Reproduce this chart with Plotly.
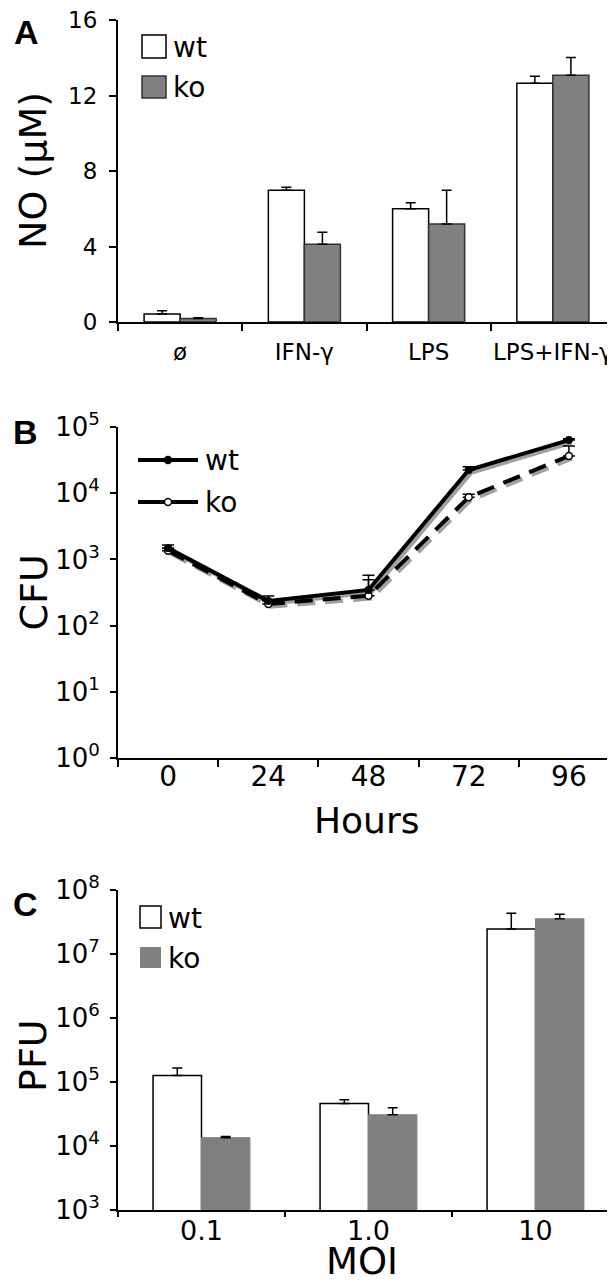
import plotly.graph_objects as go

W, H = 615, 1282

# ---------------- Data ----------------
# Panel A: NO production (uM)
a_categories = ["ø", "IFN-γ", "LPS", "LPS+IFN-γ"]
a_wt = [0.42, 6.98, 6.00, 12.65]
a_wt_err = [0.18, 0.16, 0.32, 0.37]
a_ko = [0.18, 4.12, 5.19, 13.07]
a_ko_err = [0.05, 0.63, 1.79, 0.94]
a_yticks = [0, 4, 8, 12, 16]

# Panel B: CFU over time
b_hours = ["0", "24", "48", "72", "96"]
b_wt = [1480, 236, 346, 22400, 63500]
b_wt_err = [170, 45, 230, 2600, 3000]
b_ko = [1350, 212, 282, 8700, 36500]
b_ko_err = [120, 30, 210, 900, 15300]
b_ytick_exp = [0, 1, 2, 3, 4, 5]

# Panel C: PFU by MOI
c_moi = ["0.1", "1.0", "10"]
c_wt = [126000, 46000, 24500000]
c_wt_err = [40000, 7000, 19000000]
c_ko = [13500, 30800, 35500000]
c_ko_err = [600, 8700, 6300000]
c_ytick_exp = [3, 4, 5, 6, 7, 8]

FONT = "DejaVu Sans"
GRAY = "#808080"

def px(x):
    return x / W

def py(y):
    return 1 - y / H

def ax(**kw):
    d = dict(showline=True, linecolor="black", linewidth=2, showgrid=False,
             zeroline=False, ticks="outside", ticklen=7, tickwidth=2,
             tickcolor="black", automargin=False, ticklabeloverflow="allow")
    d.update(kw)
    return d

fig = go.Figure()

# ---------------- Panel A ----------------
fig.add_trace(go.Bar(
    x=a_categories, y=a_wt, name="wt", xaxis="x", yaxis="y",
    marker=dict(color="white", line=dict(color="black", width=1.5)),
    error_y=dict(type="data", symmetric=False, array=a_wt_err,
                 arrayminus=[0] * len(a_wt), color="black", thickness=1.5, width=5),
    showlegend=False))
fig.add_trace(go.Bar(
    x=a_categories, y=a_ko, name="ko", xaxis="x", yaxis="y",
    marker=dict(color=GRAY, line=dict(color="#333333", width=1.5)),
    error_y=dict(type="data", symmetric=False, array=a_ko_err,
                 arrayminus=[0] * len(a_ko), color="black", thickness=1.5, width=5),
    showlegend=False))

# ---------------- Panel B ----------------
b_idx = list(range(len(b_hours)))
shadow_dx = 0.025
shadow_fy = 0.91
fig.add_trace(go.Scatter(
    x=[i + shadow_dx for i in b_idx], y=[v * shadow_fy for v in b_ko],
    xaxis="x2", yaxis="y2", mode="lines",
    line=dict(color="#a0a0a0", width=4, dash="18px,10px"),
    showlegend=False, hoverinfo="skip"))
fig.add_trace(go.Scatter(
    x=[i + shadow_dx for i in b_idx], y=[v * shadow_fy for v in b_wt],
    xaxis="x2", yaxis="y2", mode="lines",
    line=dict(color="#a0a0a0", width=4),
    showlegend=False, hoverinfo="skip"))
fig.add_trace(go.Scatter(
    x=b_idx, y=b_ko, name="ko", xaxis="x2", yaxis="y2", mode="lines+markers",
    line=dict(color="black", width=4, dash="18px,10px"),
    marker=dict(symbol="circle", size=7, color="white", line=dict(color="black", width=1.5)),
    error_y=dict(type="data", symmetric=False, array=b_ko_err,
                 arrayminus=[0] * len(b_ko), color="black", thickness=1.5, width=6),
    showlegend=False))
fig.add_trace(go.Scatter(
    x=b_idx, y=b_wt, name="wt", xaxis="x2", yaxis="y2", mode="lines+markers",
    line=dict(color="black", width=4),
    marker=dict(symbol="circle", size=8, color="black"),
    error_y=dict(type="data", symmetric=False, array=b_wt_err,
                 arrayminus=[0] * len(b_wt), color="black", thickness=1.5, width=6),
    showlegend=False))

# ---------------- Panel C ----------------
fig.add_trace(go.Bar(
    x=c_moi, y=c_wt, name="wt", xaxis="x3", yaxis="y3",
    marker=dict(color="white", line=dict(color="black", width=1.5)),
    error_y=dict(type="data", symmetric=False, array=c_wt_err,
                 arrayminus=[0] * len(c_wt), color="black", thickness=1.5, width=5),
    showlegend=False))
fig.add_trace(go.Bar(
    x=c_moi, y=c_ko, name="ko", xaxis="x3", yaxis="y3",
    marker=dict(color=GRAY, line=dict(color=GRAY, width=1)),
    error_y=dict(type="data", symmetric=False, array=c_ko_err,
                 arrayminus=[0] * len(c_ko), color="black", thickness=1.5, width=5),
    showlegend=False))

# domains (pixel-derived)
a_top, a_bot = 12, 314
b_top, b_bot = 419, 750
c_top, c_bot = 882, 1202
left = 110

fig.update_layout(
    width=W, height=H, margin=dict(l=0, r=0, t=0, b=0),
    paper_bgcolor="white", plot_bgcolor="white",
    font=dict(family=FONT, color="black"),
    barmode="group", bargap=0.42, bargroupgap=0,
    xaxis=ax(domain=[px(left), px(607)], anchor="y",
             type="category", tickson="boundaries", tickangle=0,
             tickfont=dict(size=23), ticklabelstandoff=8),
    yaxis=ax(domain=[py(a_bot), py(a_top)], anchor="x",
             range=[0, 16], tickvals=a_yticks, tickfont=dict(size=23),
             ticklabelstandoff=7),
    xaxis2=ax(domain=[px(left), px(611)], anchor="y2",
              range=[-0.5, len(b_hours) - 0.5], tickvals=b_idx, ticktext=b_hours,
              ticklen=0, tickfont=dict(size=28), ticklabelstandoff=-8, tickangle=0,
              minor=dict(tickvals=[i - 0.5 for i in range(len(b_hours) + 1)],
                         ticks="outside", ticklen=7, tickwidth=2, tickcolor="black",
                         showgrid=False)),
    yaxis2=ax(domain=[py(b_bot), py(b_top)], anchor="x2",
              type="log", range=[0, 5], ticklen=6, ticklabelstandoff=5,
              tickvals=[10 ** e for e in b_ytick_exp],
              ticktext=["10<sup>%d</sup>" % e for e in b_ytick_exp],
              tickfont=dict(size=26)),
    xaxis3=ax(domain=[px(left), px(611)], anchor="y3",
              type="category", tickson="boundaries", tickangle=0, ticklen=5,
              tickfont=dict(size=27), ticklabelstandoff=-4),
    yaxis3=ax(domain=[py(c_bot), py(c_top)], anchor="x3",
              type="log", range=[3, 8], ticklen=6, ticklabelstandoff=5,
              tickvals=[10 ** e for e in c_ytick_exp],
              ticktext=["10<sup>%d</sup>" % e for e in c_ytick_exp],
              tickfont=dict(size=26)),
)

# ---------------- Legends (drawn as swatches + labels) ----------------
shapes = []
annotations = []

def box_legend(x0, x1, rows, fill_lines):
    for (y0, y1, label), (fill, line) in zip(rows, fill_lines):
        shapes.append(dict(type="rect", xref="paper", yref="paper",
                           x0=px(x0), x1=px(x1), y0=py(y1), y1=py(y0),
                           fillcolor=fill,
                           line=dict(color=line, width=1.5 if line != fill else 0)))
        annotations.append(dict(xref="paper", yref="paper", x=px(x1 + 5),
                                y=py((y0 + y1) / 2 + 1), text=label, showarrow=False,
                                xanchor="left", yanchor="middle",
                                font=dict(size=28, family=FONT)))

box_legend(134, 158, [(27, 50, "wt"), (68, 90, "ko")],
           [("white", "black"), (GRAY, "#333333")])
box_legend(132, 153, [(898, 920, "wt"), (939, 960, "ko")],
           [("white", "black"), (GRAY, GRAY)])

# Panel B legend: line + marker
for yy, label, mfill in [(452, "wt", "black"), (494, "ko", "white")]:
    shapes.append(dict(type="line", xref="paper", yref="paper",
                       x0=px(130), x1=px(190), y0=py(yy), y1=py(yy),
                       line=dict(color="black", width=4)))
    r = 3.5
    shapes.append(dict(type="circle", xref="paper", yref="paper",
                       x0=px(160 - r), x1=px(160 + r), y0=py(yy + r), y1=py(yy - r),
                       fillcolor=mfill, line=dict(color="black", width=1.5)))
    annotations.append(dict(xref="paper", yref="paper", x=px(195), y=py(yy + 1),
                            text=label, showarrow=False, xanchor="left",
                            yanchor="middle", font=dict(size=28, family=FONT)))

# Axis titles
for text, cy in [("NO (μM)", (a_top + a_bot) / 2), ("CFU", (b_top + b_bot) / 2),
                 ("PFU", (c_top + c_bot) / 2 + 6)]:
    annotations.append(dict(xref="paper", yref="paper", x=px(25), y=py(cy),
                            text=text, textangle=-90, showarrow=False,
                            xanchor="center", yanchor="middle",
                            font=dict(size=38, family=FONT)))
annotations.append(dict(xref="paper", yref="paper", x=px(358), y=py(812),
                        text="Hours", showarrow=False, xanchor="center",
                        yanchor="middle", font=dict(size=36, family=FONT)))
annotations.append(dict(xref="paper", yref="paper", x=px(354), y=py(1277),
                        text="MOI", showarrow=False, xanchor="center",
                        yanchor="bottom", font=dict(size=37, family=FONT)))

# Panel letters
for letter, cx, cy in [("A", 18, 24), ("B", 17, 424), ("C", 17, 896)]:
    annotations.append(dict(xref="paper", yref="paper", x=px(cx), y=py(cy),
                            text="<b>%s</b>" % letter, showarrow=False,
                            xanchor="center", yanchor="middle",
                            font=dict(size=34, family="Liberation Sans")))

fig.update_layout(shapes=shapes, annotations=annotations)
fig.write_html("out.html")
